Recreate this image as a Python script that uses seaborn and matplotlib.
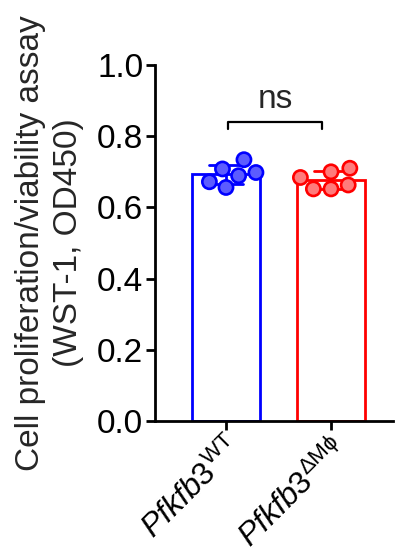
import matplotlib
matplotlib.use("Agg")
import matplotlib.pyplot as plt
import seaborn as sns
import pandas as pd

# ---- data ----
groups = ["WT", "dMphi"]
wt_values = [0.708, 0.656, 0.698, 0.734, 0.672, 0.689]
ko_values = [0.700, 0.652, 0.684, 0.710, 0.652, 0.663]
tick_labels = [r"$\mathit{Pfkfb3}^{\mathrm{WT}}$", r"$\mathit{Pfkfb3}^{\mathrm{ΔMϕ}}$"]
y_ticks = [0.0, 0.2, 0.4, 0.6, 0.8, 1.0]
y_tick_labels = ["0.0", "0.2", "0.4", "0.6", "0.8", "1.0"]
ylabel = "Cell proliferation/viability assay\n(WST-1, OD450)"
sig_label = "ns"

edge_colors = ["#0000ff", "#ff0000"]
face_colors = ["#5c5cff", "#ff7b7b"]

df = pd.DataFrame({
    "group": [groups[0]] * len(wt_values) + [groups[1]] * len(ko_values),
    "value": wt_values + ko_values,
})

sns.set_style("ticks")
plt.rcParams["font.family"] = ["Liberation Sans", "DejaVu Sans"]
plt.rcParams["mathtext.fontset"] = "custom"
plt.rcParams["mathtext.rm"] = "Liberation Sans"
plt.rcParams["mathtext.it"] = "Liberation Sans:italic"
plt.rcParams["mathtext.fallback"] = "stixsans"

W, H = 396, 559
fig = plt.figure(figsize=(W / 100, H / 100), dpi=100)
ax = fig.add_axes([155 / W, 1 - 421 / H, (393 - 155) / W, 356 / H])

sns.barplot(data=df, x="group", y="value", hue="group", order=groups,
            hue_order=groups, palette=edge_colors, fill=False, width=0.64,
            linewidth=2.0, errorbar="sd", capsize=0.32,
            err_kws={"linewidth": 2.0}, legend=False, ax=ax)

sns.swarmplot(data=df, x="group", y="value", hue="group", order=groups,
              hue_order=groups, palette=face_colors, size=10.2,
              linewidth=1.9, legend=False, ax=ax, zorder=5)
for coll, ec in zip(ax.collections, edge_colors):
    coll.set_edgecolor(ec)

ax.set_xlim(-0.676, 1.59)
ax.set_ylim(0, 1.0)
ax.set_yticks(y_ticks)
ax.set_yticklabels(y_tick_labels)
ax.set_xticks([0, 1])
ax.set_xticklabels(tick_labels, rotation=45, ha="right", rotation_mode="anchor")
ax.set_xlabel("")
ax.set_ylabel(ylabel, fontsize=24, linespacing=1.3)
ax.yaxis.set_label_coords(-0.298, 0.5)

for side in ["top", "right"]:
    ax.spines[side].set_visible(False)
for side in ["left", "bottom"]:
    ax.spines[side].set_linewidth(2.0)
    ax.spines[side].set_color("black")
ax.tick_params(axis="both", length=6.5, width=2.0, labelsize=24, pad=2,
               color="black", labelcolor="black")
ax.tick_params(axis="x", pad=2, labelsize=23)

# significance bracket
bx0, bx1, by, bdrop = 0.02, 0.914, 0.84, 0.02
ax.plot([bx0, bx0, bx1, bx1], [by - bdrop, by, by, by - bdrop], color="black",
        lw=1.6, clip_on=False)
ax.text((bx0 + bx1) / 2, by + 0.04, sig_label, ha="center", va="baseline",
        fontsize=24)

fig.savefig("out.png", dpi=100)
